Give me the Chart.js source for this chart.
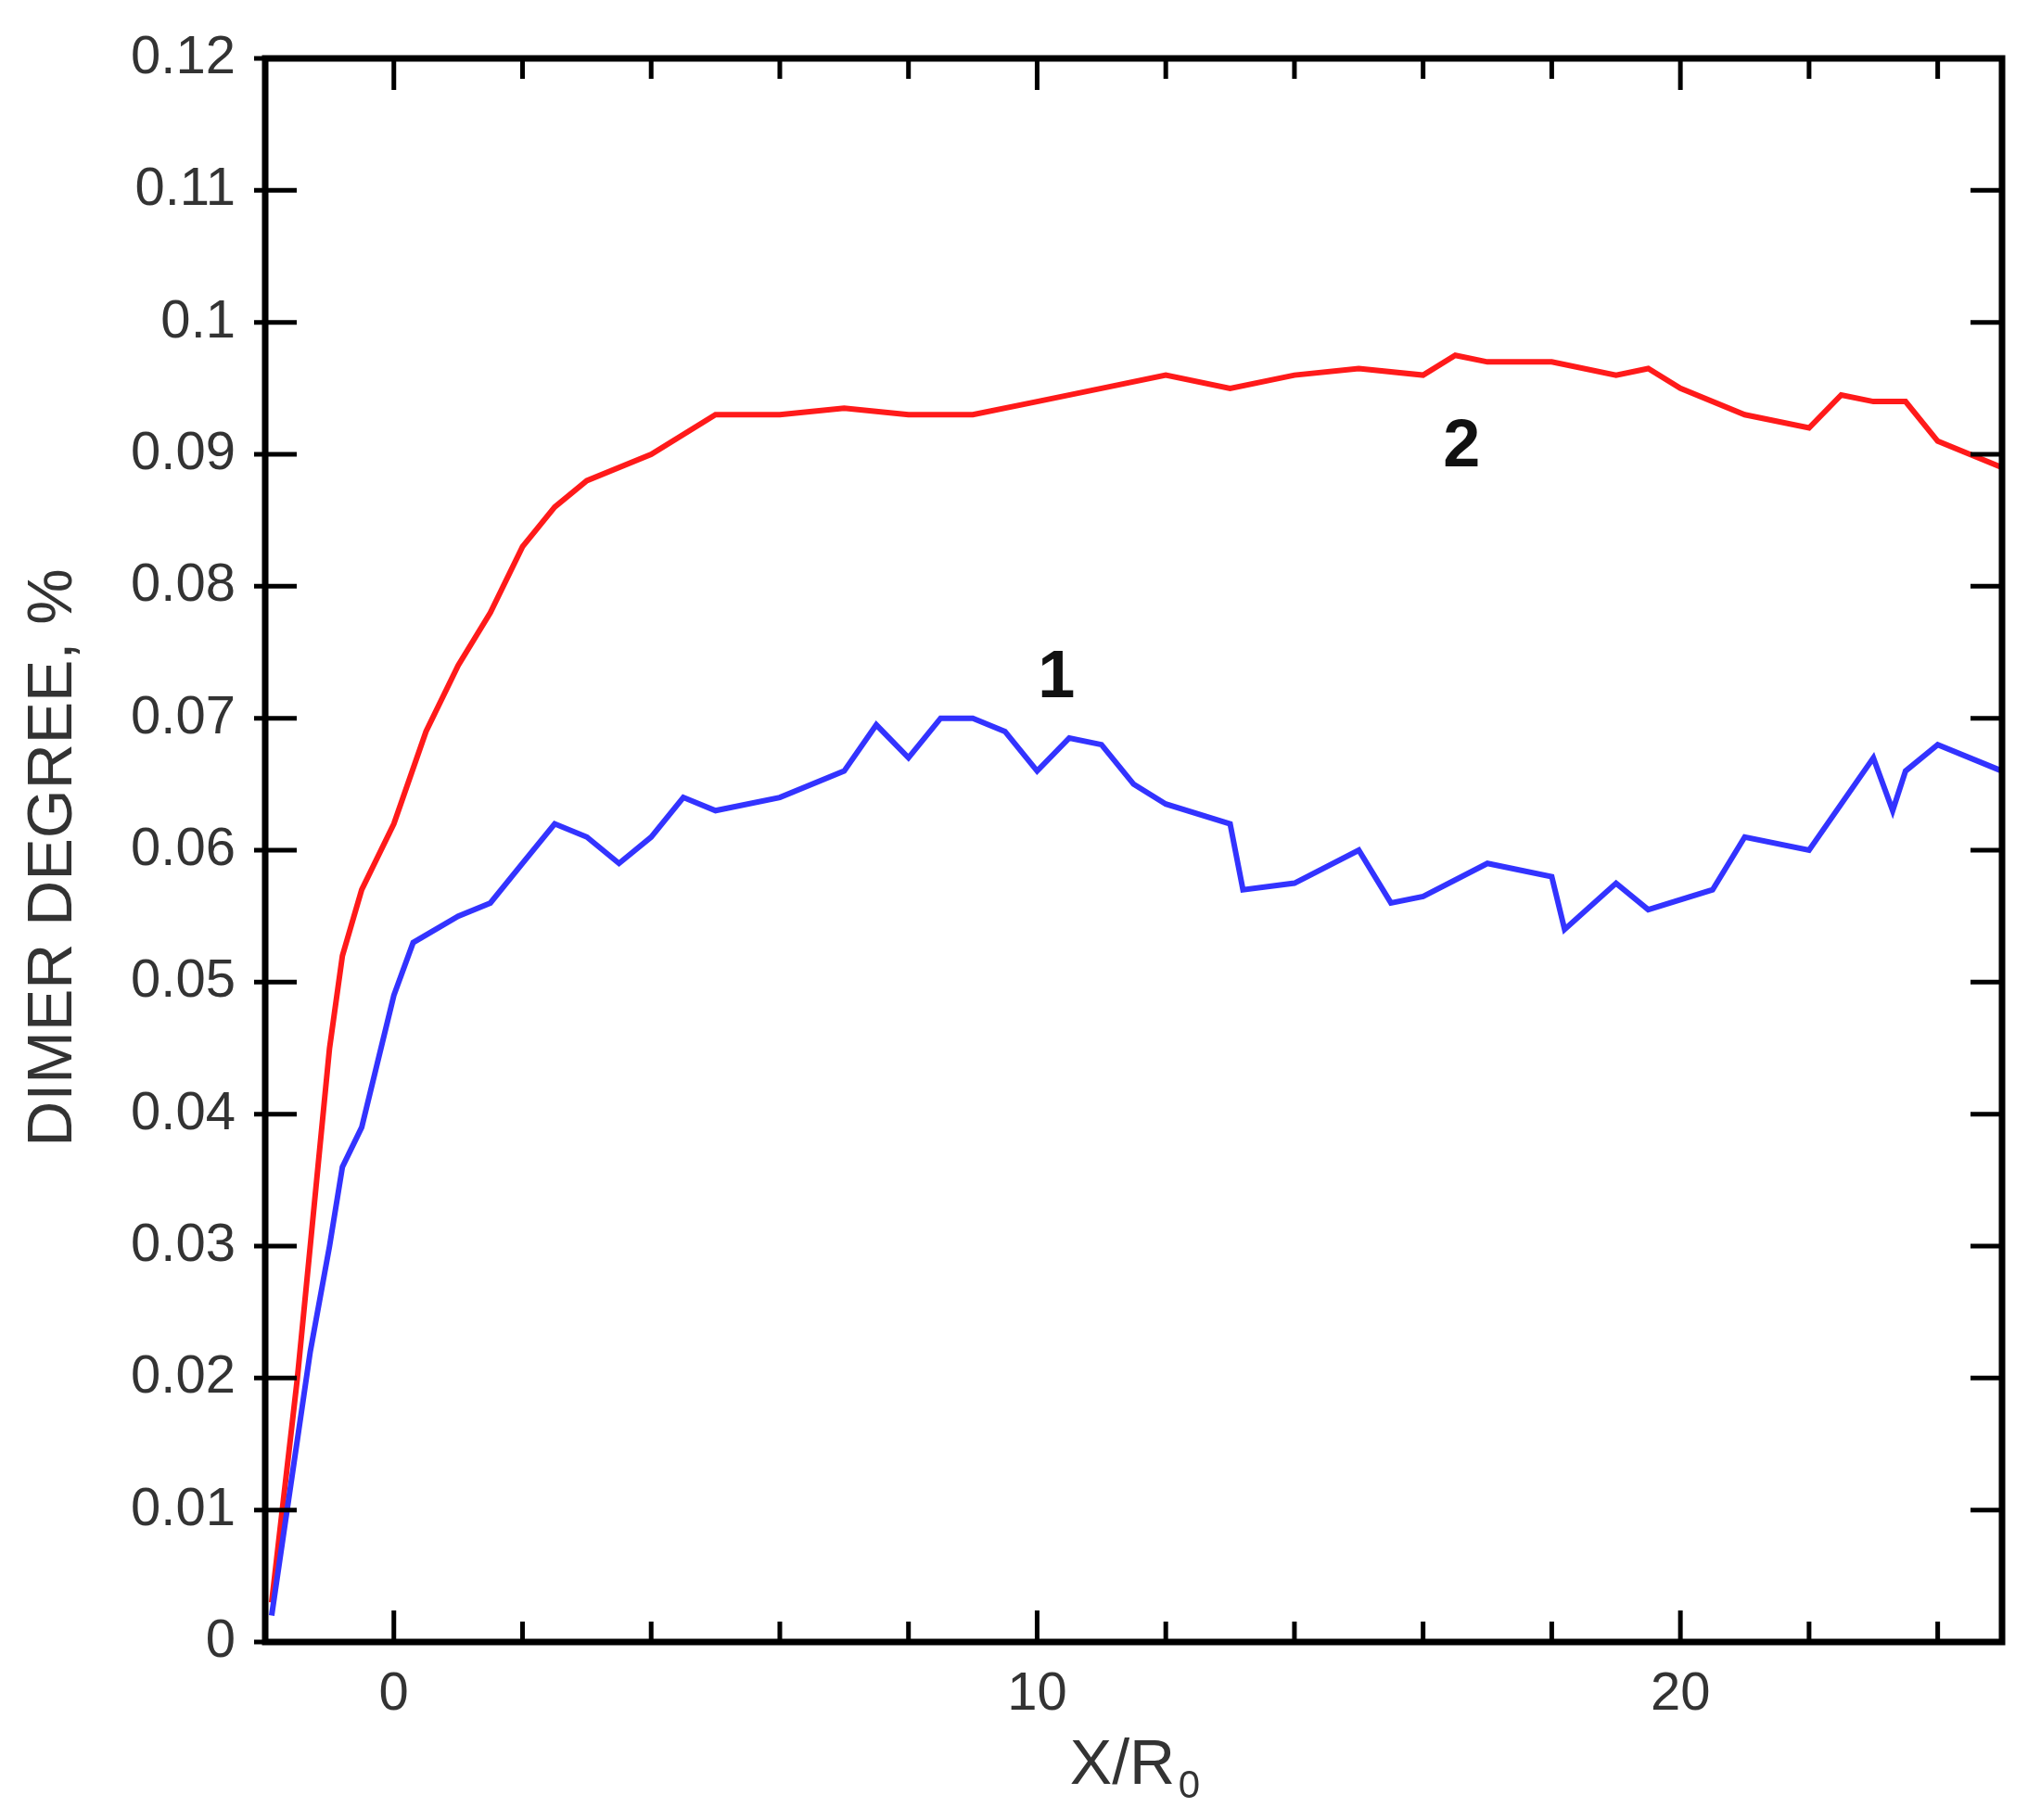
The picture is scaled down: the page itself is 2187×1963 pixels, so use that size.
<!DOCTYPE html>
<html>
<head>
<meta charset="utf-8">
<script src="https://cdn.jsdelivr.net/npm/chart.js@4"></script>
<style>body{margin:0;background:#fff}</style>
</head>
<body>
<canvas id="c" width="2187" height="1963"></canvas>
<script>
// curve 1 (blue)
const x1 = [-1.9,-1.6,-1.3,-1,-0.8,-0.5,-0.2,0,0.3,1,1.5,2,2.5,3,3.5,4,4.5,5,6,7,7.5,8,8.5,9,9.5,10,10.5,11,11.5,12,13,13.2,14,15,15.5,16,17,18,18.2,19,19.5,20.5,21,22,23,23.3,23.5,24,25];
const y1 = [0.002,0.012,0.022,0.03,0.036,0.039,0.045,0.049,0.053,0.055,0.056,0.059,0.062,0.061,0.059,0.061,0.064,0.063,0.064,0.066,0.0695,0.067,0.07,0.07,0.069,0.066,0.0685,0.068,0.065,0.0635,0.062,0.057,0.0575,0.06,0.056,0.0565,0.059,0.058,0.054,0.0575,0.0555,0.057,0.061,0.06,0.067,0.063,0.066,0.068,0.066];
// curve 2 (red)
const x2 = [-1.9,-1.5,-1.2,-1,-0.8,-0.5,0,0.5,1,1.5,2,2.5,3,4,5,6,7,8,9,10,11,12,13,14,15,16,16.5,17,18,19,19.5,20,21,22,22.5,23,23.5,24,25];
const y2 = [0.003,0.02,0.035,0.045,0.052,0.057,0.062,0.069,0.074,0.078,0.083,0.086,0.088,0.09,0.093,0.093,0.0935,0.093,0.093,0.094,0.095,0.096,0.095,0.096,0.0965,0.096,0.0975,0.097,0.097,0.096,0.0965,0.095,0.093,0.092,0.0945,0.094,0.094,0.091,0.089];
const curveLabels = [{t:"1", x:10.3, y:0.073}, {t:"2", x:16.6, y:0.0905}];

const pts = (xs, ys) => xs.map((x, i) => ({x: x, y: ys[i]}));

const deco = {
  id: "deco",
  afterDraw(chart) {
    const c = chart.ctx, a = chart.chartArea, xs = chart.scales.x, ys = chart.scales.y;
    c.save();
    c.strokeStyle = "#000"; c.lineWidth = 7;
    c.strokeRect(a.left, a.top, a.right - a.left, a.bottom - a.top);
    c.lineWidth = 5;
    for (let v = 0; v <= 0.1201; v += 0.01) {
      const p = ys.getPixelForValue(v);
      c.beginPath(); c.moveTo(a.left - 12, p); c.lineTo(a.left + 34, p);
      c.moveTo(a.right - 34, p); c.lineTo(a.right, p); c.stroke();
    }
    for (let v = -2; v <= 24; v += 2) {
      const p = xs.getPixelForValue(v);
      const len = v % 10 === 0 ? 34 : 22;
      c.beginPath(); c.moveTo(p, a.bottom); c.lineTo(p, a.bottom - len);
      c.moveTo(p, a.top); c.lineTo(p, a.top + len); c.stroke();
    }
    c.fillStyle = "#111"; c.font = "bold 72px 'Liberation Sans'";
    c.textAlign = "center"; c.textBaseline = "middle";
    curveLabels.forEach(l => c.fillText(l.t, xs.getPixelForValue(l.x), ys.getPixelForValue(l.y)));
    // axis titles
    c.fillStyle = "#333"; c.font = "68px 'Liberation Sans'";
    c.fillText("X/R", (a.left + a.right) / 2 - 12, 1905);
    c.font = "42px 'Liberation Sans'";
    c.fillText("0", (a.left + a.right) / 2 + 60, 1927);
    c.translate(58, 925); c.rotate(-Math.PI / 2);
    c.font = "68px 'Liberation Sans'";
    c.fillText("DIMER DEGREE, %", 0, 0);
    c.restore();
  }
};

new Chart(document.getElementById("c"), {
  type: "line",
  data: {
    datasets: [
      {data: pts(x1, y1), borderColor: "#3333ff", borderWidth: 6, pointRadius: 0, tension: 0},
      {data: pts(x2, y2), borderColor: "#ff1a1a", borderWidth: 6, pointRadius: 0, tension: 0}
    ]
  },
  options: {
    responsive: false, animation: false,
    layout: {padding: {top: 63, right: 28}},
    plugins: {legend: {display: false}, tooltip: {enabled: false}},
    scales: {
      x: {
        type: "linear", min: -2, max: 25,
        afterFit: s => { s.height = 192; },
        afterBuildTicks: s => { s.ticks = [0, 10, 20].map(v => ({value: v})); },
        grid: {display: false}, border: {display: false},
        ticks: {color: "#333", padding: 14, font: {size: 58, family: "Liberation Sans"}}
      },
      y: {
        min: 0, max: 0.12,
        afterFit: s => { s.width = 286; },
        afterBuildTicks: s => { s.ticks = []; for (let i = 0; i <= 12; i++) s.ticks.push({value: i / 100}); },
        grid: {display: false}, border: {display: false},
        ticks: {color: "#333", padding: 24, font: {size: 58, family: "Liberation Sans"},
          callback: v => v === 0 ? "0" : String(+v.toFixed(2))}
      }
    }
  },
  plugins: [deco]
});
</script>
</body>
</html>
